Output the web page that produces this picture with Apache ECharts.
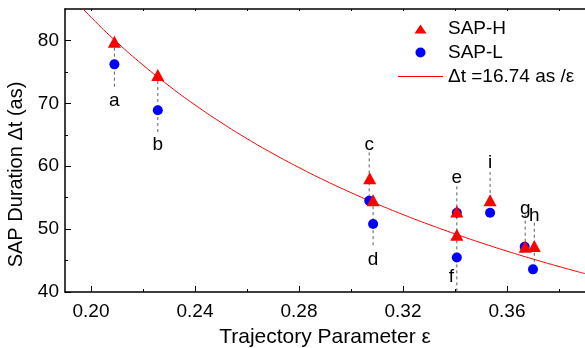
<!DOCTYPE html>
<html>
<head>
<meta charset="utf-8">
<script src="https://cdn.jsdelivr.net/npm/echarts@6/dist/echarts.min.js"></script>
<style>
  html, body { margin: 0; padding: 0; background: #fff; }
  #chart { width: 585px; height: 348px; }
</style>
</head>
<body>
<div id="chart"></div>
<script>
// data
const hX = [0.209, 0.2257, 0.3072, 0.3085, 0.3407, 0.3407, 0.3670, 0.3705, 0.3535];
const hY = [79.8, 74.5, 58.1, 54.6, 52.8, 49.1, 47.2, 47.3, 54.6];
const lX = [0.209, 0.2257, 0.3070, 0.3085, 0.3407, 0.3407, 0.3668, 0.3700, 0.3535];
const lY = [76.2, 68.9, 54.5, 50.8, 52.6, 45.5, 47.2, 43.6, 52.6];

// fitted curve dt = 16.74 as / eps, sampled values
const fitX = [0.19, 0.20, 0.21, 0.22, 0.23, 0.24, 0.25, 0.26, 0.27, 0.28, 0.29,
              0.30, 0.31, 0.32, 0.33, 0.34, 0.35, 0.36, 0.37, 0.38, 0.39];
const fitY = [88.11, 83.70, 79.71, 76.09, 72.78, 69.75, 66.96, 64.38, 62.00, 59.79, 57.72,
              55.80, 54.00, 52.31, 50.73, 49.24, 47.83, 46.50, 45.24, 44.05, 42.92];

// point labels
const tagNames = ["a", "b", "c", "d", "e", "f", "g", "h", "i"];
const tagX = [0.209, 0.2257, 0.3070, 0.3085, 0.3407, 0.3386, 0.3670, 0.3705, 0.3535];
const tagY = [70.4, 63.4, 63.4, 45.1, 58.1, 42.5, 53.3, 52.1, 60.5];

// dashed guide lines: x, top, bottom
const dropX = [0.209, 0.2257, 0.3070, 0.3085, 0.3407, 0.3535, 0.3670, 0.3705];
const dropTop = [79.8, 74.5, 62.2, 54.6, 56.8, 59.1, 52.3, 51.0];
const dropBottom = [72.3, 65.0, 54.5, 47.0, 40.0, 54.6, 47.2, 43.6];

// axis ticks
const xMajor = [0.20, 0.24, 0.28, 0.32, 0.36];
const xMinor = [0.22, 0.26, 0.30, 0.34, 0.38];
const yMajor = [40, 50, 60, 70, 80];
const yMinor = [45, 55, 65, 75];

const font = "Liberation Sans";
const fitName = "\u0394t =16.74 as /\u03b5";

const dropSeries = dropX.map((x, i) => ({
  type: "line",
  data: [[x, dropTop[i]], [x, dropBottom[i]]],
  symbol: "none",
  silent: true,
  z: 1,
  lineStyle: { color: "#5f5f5f", width: 1, type: [3, 3] }
}));

function xAx(pos, ticks, len, labels) {
  return {
    type: "value",
    position: pos,
    min: 0.19,
    max: 0.39,
    axisLine: { show: true, onZero: false, lineStyle: { color: "#000", width: 1.5 } },
    axisTick: { show: true, inside: true, length: len, customValues: ticks, lineStyle: { color: "#000", width: 1 } },
    axisLabel: labels
      ? { show: true, customValues: xMajor, margin: 10, color: "#000", fontSize: 19, fontFamily: font,
          formatter: v => v.toFixed(2) }
      : { show: false },
    splitLine: { show: false }
  };
}

const chart = echarts.init(document.getElementById("chart"));
chart.setOption({
  animation: false,
  grid: { left: 65, right: 0, top: 9, bottom: 56, containLabel: false, outerBoundsMode: "none" },
  legend: {
    orient: "vertical",
    left: 393,
    top: 14,
    itemWidth: 45,
    itemHeight: 14,
    itemGap: 5,
    textStyle: { fontSize: 19, color: "#000", fontFamily: font },
    data: [
      { name: "SAP-H", icon: "path://M0,0M14,14M7,3L13,12L1,12Z" },
      { name: "SAP-L", icon: "path://M0,0M14,14M2,7a5,5 0 1,0 10,0a5,5 0 1,0 -10,0Z" },
      { name: fitName, icon: "path://M0,0h45v1.2h-45Z" }
    ]
  },
  xAxis: [
    Object.assign(xAx("bottom", xMajor, 6, true), {
      name: "Trajectory Parameter \u03b5",
      nameLocation: "middle",
      nameGap: 35,
      nameTextStyle: { fontSize: 21, color: "#000", fontFamily: font }
    }),
    Object.assign(xAx("bottom", xMinor, 3, false), { axisLine: { show: false } }),
    xAx("top", xMajor.concat(xMinor), 2, false)
  ],
  yAxis: [
    {
      type: "value",
      position: "left",
      min: 40,
      max: 85,
      name: "SAP Duration \u0394t (as)",
      nameLocation: "middle",
      nameGap: 37,
      nameTextStyle: { fontSize: 20, color: "#000", fontFamily: font, padding: [0, 48, 0, 0] },
      axisLine: { show: true, lineStyle: { color: "#000", width: 1.5 } },
      axisTick: { show: true, inside: true, length: 6, customValues: yMajor, lineStyle: { color: "#000" } },
      axisLabel: { customValues: yMajor, margin: 6, color: "#000", fontSize: 19, fontFamily: font },
      splitLine: { show: false }
    },
    {
      type: "value",
      position: "left",
      offset: 0,
      min: 40,
      max: 85,
      axisLine: { show: false },
      axisTick: { show: true, inside: true, length: 3, customValues: yMinor, lineStyle: { color: "#000" } },
      axisLabel: { show: false },
      splitLine: { show: false }
    }
  ],
  series: dropSeries.concat([
    {
      name: fitName,
      type: "line",
      data: fitX.map((x, i) => [x, fitY[i]]),
      smooth: true,
      symbol: "none",
      clip: true,
      z: 2,
      lineStyle: { color: "#ff0000", width: 1 },
      itemStyle: { color: "#ff0000" }
    },
    {
      name: "SAP-L",
      type: "scatter",
      data: lX.map((x, i) => [x, lY[i]]),
      symbol: "circle",
      symbolSize: 10,
      z: 3,
      itemStyle: { color: "#0000ff", opacity: 1 }
    },
    {
      name: "SAP-H",
      type: "scatter",
      data: hX.map((x, i) => [x, hY[i]]),
      symbol: "triangle",
      symbolSize: [13, 12],
      z: 4,
      itemStyle: { color: "#ff0000", opacity: 1 }
    },
    {
      type: "scatter",
      data: tagX.map((x, i) => ({ value: [x, tagY[i]], name: tagNames[i] })),
      symbolSize: 0,
      silent: true,
      z: 5,
      itemStyle: { opacity: 1 },
      label: {
        show: true,
        position: "inside",
        formatter: p => p.name,
        color: "#000",
        textBorderWidth: 0,
        fontSize: 19,
        fontFamily: font
      }
    }
  ])
});
</script>
</body>
</html>
